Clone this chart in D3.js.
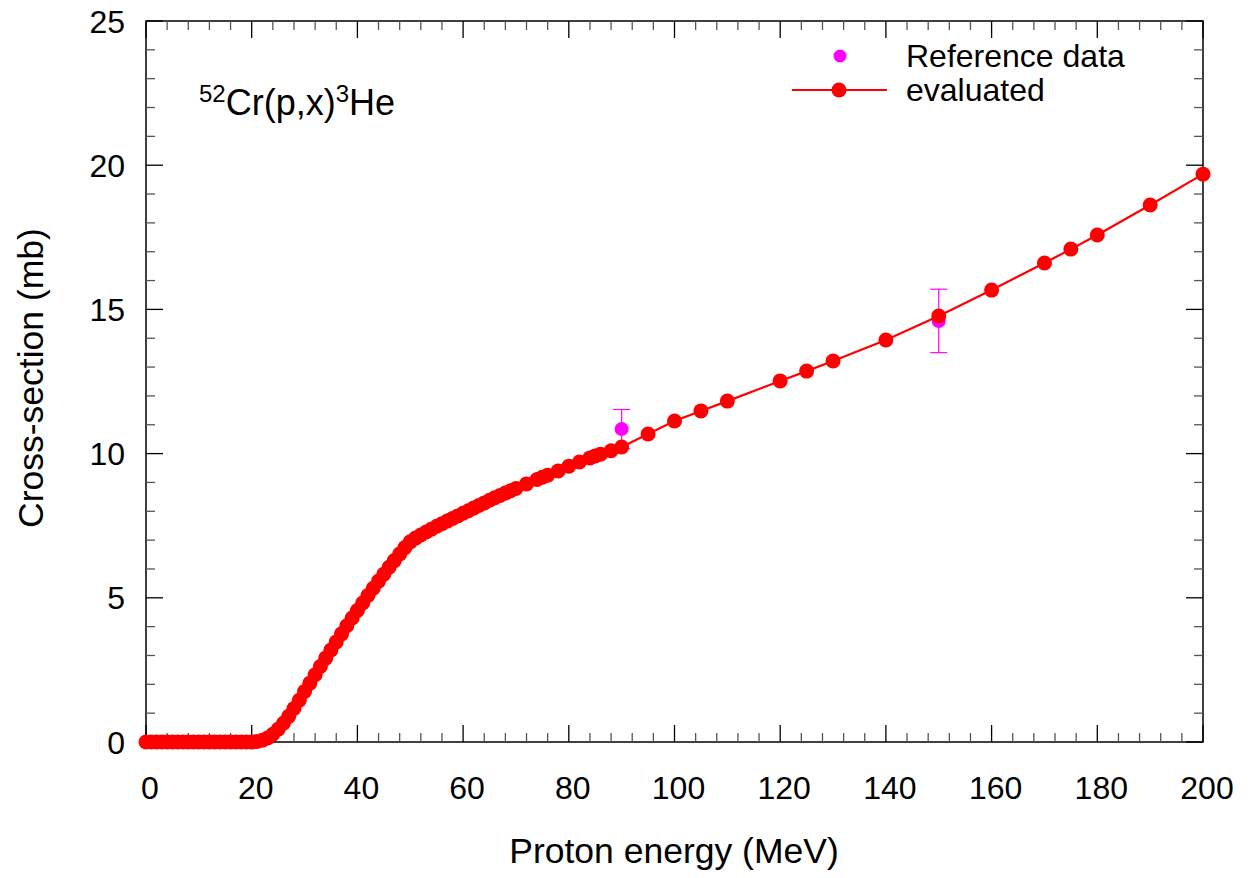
<!DOCTYPE html>
<html><head><meta charset="utf-8">
<script src="https://cdn.jsdelivr.net/npm/d3@7"></script>
<style>
body{margin:0;background:#fff;}
text{font-family:"Liberation Sans",Arial,sans-serif;fill:#000;}
</style></head>
<body><svg id="c" width="1252" height="878"></svg>
<script>
// evaluated data (MeV, mb)
const evalEnergy = [0,1,2,3,4,5,6,7,8,9,10,11,12,13,14,15,16,17,18,19,20,21,22,23,24,25,26,27,28,29,30,31,32,33,34,35,36,37,38,39,40,41,42,43,44,45,46,47,48,49,50,51,52,53,54,55,56,57,58,59,60,61,62,63,64,65,66,67,68,69,70,72,74,75,76,78,80,82,84,85,86,88,90,95,100,105,110,120,125,130,140,150,160,170,175,180,190,200];
const evalXS = [0,0,0,0,0,0,0,0,0,0,0,0,0,0,0,0,0,0,0,0,0,0.02,0.06,0.14,0.27,0.44,0.65,0.89,1.16,1.45,1.75,2.04,2.33,2.62,2.91,3.19,3.47,3.75,4.03,4.30,4.56,4.82,5.08,5.33,5.58,5.82,6.06,6.29,6.52,6.74,6.94,7.07,7.18,7.28,7.38,7.48,7.57,7.66,7.75,7.84,7.93,8.02,8.11,8.20,8.29,8.38,8.47,8.55,8.63,8.71,8.79,8.95,9.10,9.18,9.25,9.40,9.56,9.71,9.85,9.92,9.98,10.10,10.23,10.68,11.13,11.48,11.82,12.52,12.86,13.21,13.94,14.77,15.67,16.61,17.09,17.58,18.62,19.69];
// reference data
const refEnergy = [90,150];
const refXS = [10.85,14.60];
const refErr = [0.68,1.10];
const xTicks = [0,20,40,60,80,100,120,140,160,180,200];
const yTicks = [0,5,10,15,20,25];

const svg = d3.select("#c");
const L=146,R=1203,T=21,B=742;
const x = d3.scaleLinear().domain([0,200]).range([L,R]);
const y = d3.scaleLinear().domain([0,25]).range([B,T]);

const g = svg.append("g");
g.append("rect").attr("x",L).attr("y",T).attr("width",R-L).attr("height",B-T)
 .attr("fill","none").attr("stroke","#000").attr("stroke-width",1.5);

const xMinor = d3.range(0,201,4);
const yMinor = d3.range(0,25.01,1);
xMinor.forEach(v=>{
  const major = xTicks.includes(v);
  const len = major?17:9;
  const col = major?"#000":"#555";
  g.append("line").attr("x1",x(v)).attr("x2",x(v)).attr("y1",B).attr("y2",B-len).attr("stroke",col).attr("stroke-width",1.3);
  g.append("line").attr("x1",x(v)).attr("x2",x(v)).attr("y1",T).attr("y2",T+len).attr("stroke",col).attr("stroke-width",1.3);
});
yMinor.forEach(v=>{
  const major = yTicks.includes(v);
  const len = major?17:9;
  const col = major?"#000":"#555";
  g.append("line").attr("y1",y(v)).attr("y2",y(v)).attr("x1",L).attr("x2",L+len).attr("stroke",col).attr("stroke-width",1.3);
  g.append("line").attr("y1",y(v)).attr("y2",y(v)).attr("x1",R).attr("x2",R-len).attr("stroke",col).attr("stroke-width",1.3);
});
xTicks.forEach(v=>{
  g.append("text").attr("x",x(v)+4).attr("y",799).attr("text-anchor","middle")
   .attr("font-size",32).text(v);
});
yTicks.forEach(v=>{
  g.append("text").attr("x",125).attr("y",y(v)+11.5).attr("text-anchor","end")
   .attr("font-size",32).text(v);
});
g.append("text").attr("x",674).attr("y",863).attr("text-anchor","middle").attr("font-size",35.5).text("Proton energy (MeV)");
g.append("text").attr("transform","translate(43,378) rotate(-90)").attr("text-anchor","middle").attr("font-size",35.5).text("Cross-section (mb)");

const ann = g.append("text").attr("x",199).attr("y",115).attr("font-size",36);
ann.append("tspan").attr("font-size",24).attr("dy",-13).text("52");
ann.append("tspan").attr("dy",13).text("Cr(p,x)");
ann.append("tspan").attr("font-size",24).attr("dy",-13).text("3");
ann.append("tspan").attr("dy",13).text("He");

const evalData = evalEnergy.map((e,i)=>({e,v:evalXS[i]}));
g.append("path").datum(evalData).attr("fill","none").attr("stroke","#ff0000").attr("stroke-width",2.2)
 .attr("d",d3.line().x(d=>x(d.e)).y(d=>y(d.v)));

const refData = refEnergy.map((e,i)=>({e,v:refXS[i],err:refErr[i]}));
refData.forEach(d=>{
  const c="#ff00ff";
  g.append("line").attr("x1",x(d.e)).attr("x2",x(d.e)).attr("y1",y(d.v-d.err)).attr("y2",y(d.v+d.err)).attr("stroke",c).attr("stroke-width",1.2);
  [d.v-d.err,d.v+d.err].forEach(t=>g.append("line").attr("x1",x(d.e)-8.5).attr("x2",x(d.e)+8.5).attr("y1",y(t)).attr("y2",y(t)).attr("stroke",c).attr("stroke-width",1.2));
});
g.selectAll("circle.ref").data(refData).enter().append("circle").attr("class","ref")
 .attr("cx",d=>x(d.e)).attr("cy",d=>y(d.v)).attr("r",7).attr("fill","#ff00ff");

g.selectAll("circle.ev").data(evalData).enter().append("circle").attr("class","ev")
 .attr("cx",d=>x(d.e)).attr("cy",d=>y(d.v)).attr("r",7.5).attr("fill","#ff0000");

g.append("circle").attr("cx",840).attr("cy",56).attr("r",6.5).attr("fill","#ff00ff");
g.append("text").attr("x",906).attr("y",67).attr("font-size",32).text("Reference data");
g.append("line").attr("x1",792).attr("x2",887).attr("y1",90).attr("y2",90).attr("stroke","#ff0000").attr("stroke-width",2.2);
g.append("circle").attr("cx",839).attr("cy",90).attr("r",7.5).attr("fill","#ff0000");
g.append("text").attr("x",906).attr("y",101).attr("font-size",32).text("evaluated");
</script></body></html>
